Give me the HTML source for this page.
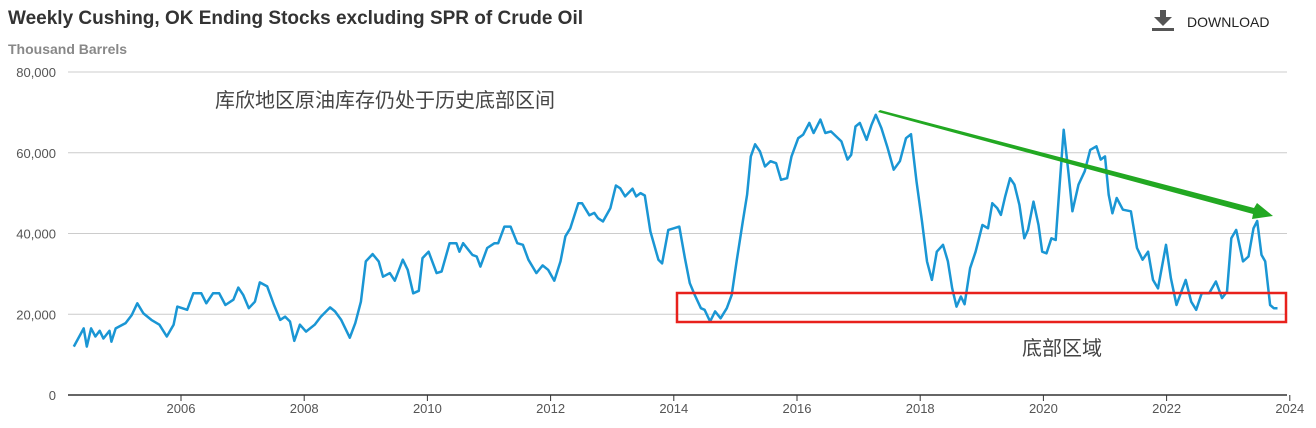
<!DOCTYPE html>
<html><head><meta charset="utf-8"><style>
body{margin:0;background:#fff;width:1316px;height:423px;overflow:hidden;font-family:"Liberation Sans","Noto Sans CJK SC",sans-serif}
</style></head><body>
<svg width="1316" height="423" xmlns="http://www.w3.org/2000/svg">
<text x="8" y="24" font-size="19" font-weight="bold" fill="#333">Weekly Cushing, OK Ending Stocks excluding SPR of Crude Oil</text>
<text x="8" y="54" font-size="14" font-weight="bold" fill="#888">Thousand Barrels</text>
<g>
<rect x="1152" y="28" width="22" height="3" fill="#555"/>
<rect x="1160" y="10" width="6" height="8" fill="#555"/>
<polygon points="1154,17 1172,17 1163,26" fill="#555"/>
<text x="1187" y="27" font-size="14" fill="#222">DOWNLOAD</text>
</g>
<g id="grid"></g><g id="axes"></g>
<polyline id="line" fill="none" stroke="#1a96d4" stroke-width="2.5" stroke-linejoin="round"/>
<text x="215" y="107" font-size="20" fill="#444">库欣地区原油库存仍处于历史底部区间</text>
<rect x="677" y="293" width="609" height="29" fill="none" stroke="#e8211c" stroke-width="2.5"/>
<text x="1022" y="355" font-size="20" fill="#444">底部区域</text>
<polygon points="880,110 1254,208 1257,203 1273,216 1252,219 1253,214 878,112" fill="#22a822"/>
</svg>
<script>
const years=[2004.26,2004.42,2004.47,2004.54,2004.61,2004.68,2004.74,2004.84,2004.87,2004.94,2005.10,2005.20,2005.29,2005.39,2005.52,2005.65,2005.77,2005.88,2005.94,2006.10,2006.20,2006.33,2006.41,2006.52,2006.62,2006.72,2006.85,2006.93,2007.01,2007.10,2007.20,2007.28,2007.40,2007.51,2007.61,2007.69,2007.77,2007.84,2007.93,2008.03,2008.17,2008.27,2008.42,2008.50,2008.60,2008.74,2008.83,2008.92,2009.00,2009.11,2009.21,2009.28,2009.39,2009.47,2009.60,2009.68,2009.77,2009.86,2009.92,2010.02,2010.15,2010.23,2010.36,2010.47,2010.52,2010.58,2010.73,2010.80,2010.86,2010.97,2011.09,2011.15,2011.25,2011.35,2011.46,2011.55,2011.64,2011.77,2011.87,2011.96,2012.06,2012.16,2012.24,2012.32,2012.45,2012.51,2012.63,2012.71,2012.77,2012.85,2012.97,2013.06,2013.13,2013.21,2013.33,2013.39,2013.46,2013.53,2013.62,2013.75,2013.81,2013.91,2014.00,2014.09,2014.18,2014.26,2014.34,2014.44,2014.50,2014.59,2014.67,2014.76,2014.86,2014.94,2015.02,2015.12,2015.19,2015.25,2015.32,2015.40,2015.48,2015.57,2015.66,2015.74,2015.84,2015.91,2016.02,2016.10,2016.20,2016.27,2016.38,2016.46,2016.55,2016.64,2016.72,2016.82,2016.88,2016.95,2017.02,2017.13,2017.21,2017.28,2017.37,2017.47,2017.57,2017.67,2017.77,2017.85,2017.94,2018.03,2018.11,2018.19,2018.27,2018.37,2018.45,2018.52,2018.59,2018.66,2018.72,2018.81,2018.90,2019.01,2019.10,2019.17,2019.25,2019.31,2019.38,2019.46,2019.53,2019.61,2019.69,2019.75,2019.84,2019.92,2019.98,2020.05,2020.13,2020.20,2020.26,2020.33,2020.41,2020.47,2020.57,2020.67,2020.76,2020.86,2020.93,2021.00,2021.06,2021.12,2021.19,2021.29,2021.42,2021.52,2021.61,2021.70,2021.78,2021.86,2021.99,2022.07,2022.16,2022.24,2022.31,2022.40,2022.48,2022.57,2022.69,2022.80,2022.90,2022.98,2023.05,2023.13,2023.24,2023.33,2023.41,2023.47,2023.54,2023.60,2023.68,2023.74,2023.80];
const stocks=[12.0,16.5,12,16.5,14.5,15.9,14,15.9,13.2,16.5,17.8,19.8,22.7,20.2,18.6,17.4,14.5,17.4,21.9,21.1,25.2,25.2,22.7,25.2,25.2,22.3,23.6,26.6,24.8,21.5,23.1,27.9,26.9,22.3,18.6,19.4,18.2,13.4,17.4,15.7,17.4,19.4,21.7,20.7,18.6,14.2,17.8,23.1,33.1,34.9,33.1,29.3,30.2,28.3,33.5,31.0,25.2,25.8,33.9,35.5,30.2,30.6,37.6,37.6,35.5,37.6,34.7,34.3,31.8,36.4,37.6,37.6,41.7,41.7,37.6,37.2,33.5,30.2,32.1,31.0,28.3,33.1,39.3,41.3,47.5,47.5,44.5,45.1,43.8,43.0,46.3,51.9,51.2,49.2,51.1,49.2,50.0,49.4,40.5,33.5,32.6,40.9,41.3,41.7,33.9,27.7,24.8,21.5,21.1,18.2,20.7,19.0,21.5,24.8,33.1,43.0,49.6,59.1,62.1,60.3,56.6,57.9,57.4,53.3,53.7,59.1,63.6,64.5,67.4,64.9,68.2,64.9,65.3,64.0,62.8,58.3,59.5,66.5,67.4,63.2,66.9,69.4,66.1,61.2,55.8,57.9,63.6,64.6,52.9,43.0,33.1,28.5,35.5,37.2,33.1,26.4,21.9,24.4,22.5,31.4,35.5,42.1,41.3,47.5,46.3,44.6,49.2,53.7,52.1,47.1,38.8,40.9,47.9,42.1,35.5,35.1,38.8,38.4,51.2,65.7,54.5,45.5,52.1,55.4,60.7,61.6,58.3,59.1,49.6,45.0,48.8,45.9,45.5,36.4,33.5,35.5,28.5,26.4,37.2,28.9,22.3,25.6,28.5,23.1,21.1,25.2,25.2,28.1,24.0,25.6,38.8,40.9,33.1,34.3,41.3,43.1,34.7,33.1,22.3,21.5,21.5];
const yTicks=[0,20000,40000,60000,80000];
const xTicks=[2006,2008,2010,2012,2014,2016,2018,2020,2022,2024];
const NS="http://www.w3.org/2000/svg";
const X=y=>181+(y-2006)*61.6;
const Y=v=>395-v/80000*323;
const grid=document.getElementById('grid'),axes=document.getElementById('axes');
function mk(tag,at,parent){const e=document.createElementNS(NS,tag);for(const k in at)e.setAttribute(k,at[k]);parent.appendChild(e);return e;}
yTicks.forEach(v=>{
 const l=mk('line',{x1:68,x2:1287,y1:Y(v),y2:Y(v),stroke:v?'#ccc':'#333','stroke-width':v?1:1.5},grid);
 
 
 const t=mk('text',{x:56,y:Y(v)+5,'text-anchor':'end','font-size':13,fill:'#555'},axes);
 t.textContent=v.toLocaleString('en-US');
 
 
});
xTicks.forEach(yr=>{
 const tk=mk('line',{x1:X(yr),x2:X(yr),y1:395,y2:401,stroke:'#333'},axes);
 
 
 const t=mk('text',{x:X(yr),y:413,'text-anchor':'middle','font-size':13,fill:'#555'},axes);
 t.textContent=yr;
 
 
});
document.getElementById('line').setAttribute('points',years.map((y,i)=>X(y).toFixed(1)+','+Y(stocks[i]*1000).toFixed(1)).join(' '));
</script>
</body></html>
